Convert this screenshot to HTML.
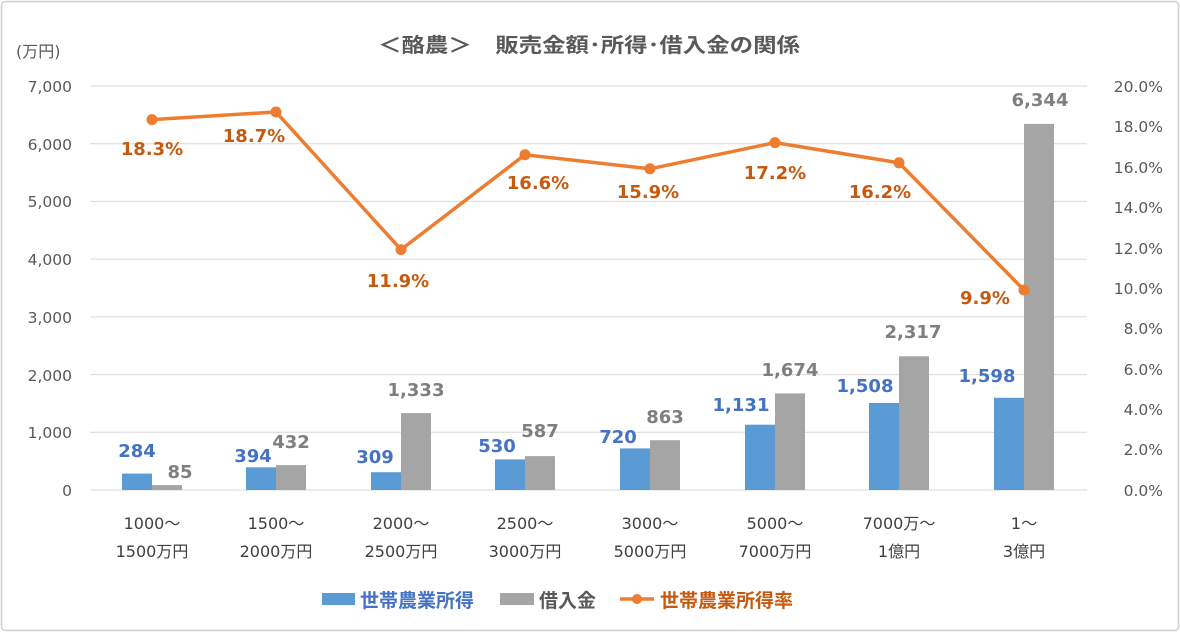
<!DOCTYPE html>
<html><head><meta charset="utf-8"><style>
body{margin:0;background:#fff;}
svg text{font-family:"DejaVu Sans","Noto Sans CJK JP",sans-serif;}
</style></head><body>
<svg width="1180" height="632" xmlns="http://www.w3.org/2000/svg">
<rect x="1.5" y="1.5" width="1177" height="629" rx="4" fill="#fff" stroke="#d0d0d0" stroke-width="1.5"/>
<text x="378" y="52" font-size="20" font-weight="bold" fill="#595959" textLength="422" lengthAdjust="spacingAndGlyphs" style="font-family:'Noto Sans CJK JP',sans-serif">＜酪農＞　販売金額･所得･借入金の関係</text>
<text x="16" y="57" font-size="16" fill="#595959">(万円)</text>
<g stroke="#d9d9d9" stroke-width="1">
<line x1="90" x2="1087" y1="86" y2="86"/><line x1="90" x2="1087" y1="143.7" y2="143.7"/>
<line x1="90" x2="1087" y1="201.4" y2="201.4"/><line x1="90" x2="1087" y1="259.1" y2="259.1"/>
<line x1="90" x2="1087" y1="316.9" y2="316.9"/><line x1="90" x2="1087" y1="374.6" y2="374.6"/>
<line x1="90" x2="1087" y1="432.3" y2="432.3"/><line x1="90" x2="1087" y1="490" y2="490"/>
</g>
<g font-size="15.5" fill="#595959" text-anchor="end">
<text x="72" y="92">7,000</text><text x="72" y="150">6,000</text><text x="72" y="207">5,000</text>
<text x="72" y="265">4,000</text><text x="72" y="323">3,000</text><text x="72" y="381">2,000</text>
<text x="72" y="438">1,000</text><text x="72" y="496">0</text>
</g>
<g font-size="15.5" fill="#595959" text-anchor="end">
<text x="1163" y="92">20.0%</text><text x="1163" y="132">18.0%</text><text x="1163" y="173">16.0%</text>
<text x="1163" y="213">14.0%</text><text x="1163" y="254">12.0%</text><text x="1163" y="294">10.0%</text>
<text x="1163" y="334">8.0%</text><text x="1163" y="375">6.0%</text><text x="1163" y="415">4.0%</text>
<text x="1163" y="455">2.0%</text><text x="1163" y="496">0.0%</text>
</g>
<g fill="#5b9bd5">
<rect x="122" y="473.6" width="30" height="16.4"/>
<rect x="246" y="467.3" width="30" height="22.7"/>
<rect x="371" y="472.2" width="30" height="17.8"/>
<rect x="495" y="459.4" width="30" height="30.6"/>
<rect x="620" y="448.4" width="30" height="41.6"/>
<rect x="745" y="424.7" width="30" height="65.3"/>
<rect x="869" y="403" width="30" height="87"/>
<rect x="994" y="397.8" width="30" height="92.2"/>
</g>
<g fill="#a5a5a5">
<rect x="152" y="485.1" width="30" height="4.9"/>
<rect x="276" y="465.1" width="30" height="24.9"/>
<rect x="401" y="413.1" width="30" height="76.9"/>
<rect x="525" y="456.1" width="30" height="33.9"/>
<rect x="650" y="440.2" width="30" height="49.8"/>
<rect x="775" y="393.4" width="30" height="96.6"/>
<rect x="899" y="356.3" width="30" height="133.7"/>
<rect x="1024" y="123.9" width="30" height="366.1"/>
</g>
<g font-size="18" font-weight="bold" fill="#4472c4" text-anchor="middle">
<text x="137" y="457">284</text><text x="253" y="462">394</text><text x="375" y="463">309</text>
<text x="497" y="452">530</text><text x="618" y="443">720</text><text x="741" y="411">1,131</text>
<text x="865" y="392">1,508</text><text x="987" y="382">1,598</text>
</g>
<g font-size="18" font-weight="bold" fill="#7f7f7f" text-anchor="middle">
<text x="180" y="478">85</text><text x="291" y="448">432</text><text x="416" y="396">1,333</text>
<text x="540" y="437">587</text><text x="665" y="423">863</text><text x="790" y="376">1,674</text>
<text x="913" y="338">2,317</text><text x="1040" y="106">6,344</text>
</g>
<polyline fill="none" stroke="#ed7d31" stroke-width="3.5" stroke-linejoin="round" points="152,119.6 276,112 401,249.6 525,154.7 650,168.8 775,142.6 899,162.8 1024,290"/>
<g fill="#ed7d31">
<circle cx="152" cy="119.6" r="5.5"/><circle cx="276" cy="112" r="5.5"/><circle cx="401" cy="249.6" r="5.5"/>
<circle cx="525" cy="154.7" r="5.5"/><circle cx="650" cy="168.8" r="5.5"/><circle cx="775" cy="142.6" r="5.5"/>
<circle cx="899" cy="162.8" r="5.5"/><circle cx="1024" cy="290" r="5.5"/>
</g>
<g font-size="18" font-weight="bold" fill="#c55a11" text-anchor="middle">
<text x="152" y="155">18.3%</text><text x="254" y="142">18.7%</text><text x="398" y="287">11.9%</text>
<text x="538" y="189">16.6%</text><text x="648" y="198">15.9%</text><text x="775" y="179">17.2%</text>
<text x="880" y="198">16.2%</text><text x="985" y="304">9.9%</text>
</g>
<g font-size="16" fill="#404040" text-anchor="middle">
<text x="152" y="529">1000～</text><text x="152" y="557">1500万円</text>
<text x="276" y="529">1500～</text><text x="276" y="557">2000万円</text>
<text x="401" y="529">2000～</text><text x="401" y="557">2500万円</text>
<text x="525" y="529">2500～</text><text x="525" y="557">3000万円</text>
<text x="650" y="529">3000～</text><text x="650" y="557">5000万円</text>
<text x="775" y="529">5000～</text><text x="775" y="557">7000万円</text>
<text x="899" y="529">7000万～</text><text x="899" y="557">1億円</text>
<text x="1024" y="529">1～</text><text x="1024" y="557">3億円</text>
</g>
<rect x="322" y="593" width="33" height="12" fill="#5b9bd5"/>
<text x="360" y="607" font-size="19" font-weight="bold" fill="#4472c4">世帯農業所得</text>
<rect x="500" y="593" width="34" height="12" fill="#a5a5a5"/>
<text x="539" y="607" font-size="19" font-weight="bold" fill="#595959">借入金</text>
<line x1="620" x2="654" y1="599" y2="599" stroke="#ed7d31" stroke-width="3.5"/>
<circle cx="637" cy="599" r="5" fill="#ed7d31"/>
<text x="660" y="607" font-size="19" font-weight="bold" fill="#c55a11">世帯農業所得率</text>
</svg>
</body></html>
